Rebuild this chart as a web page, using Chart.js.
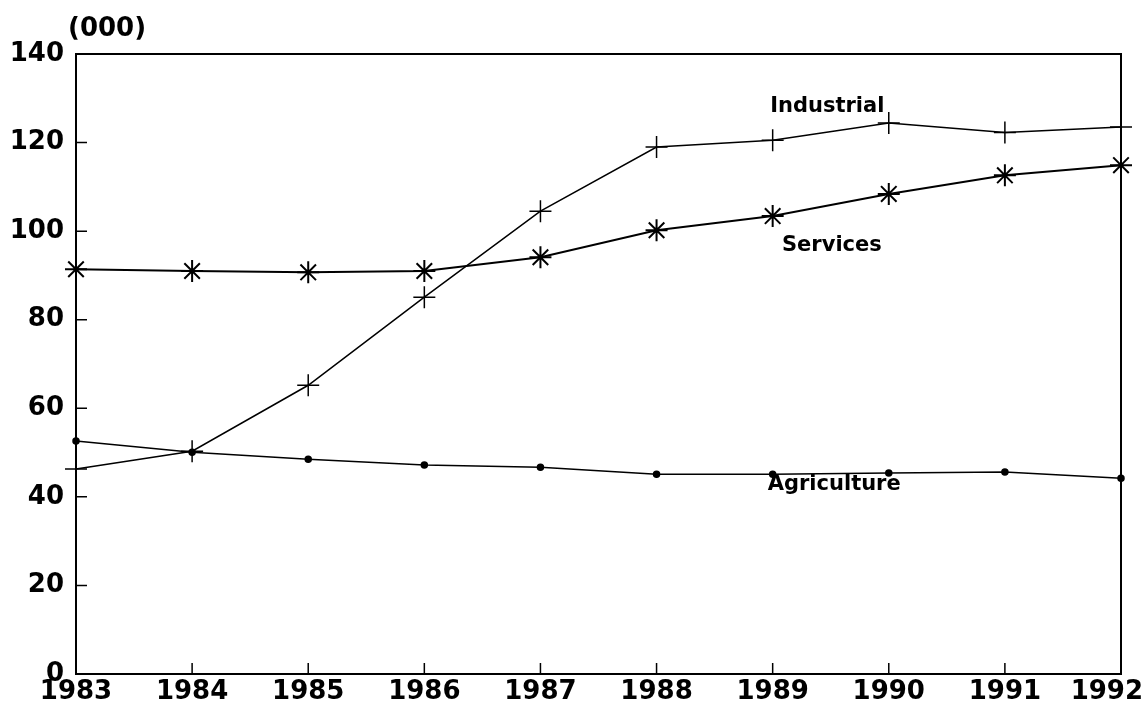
<!DOCTYPE html>
<html>
<head>
<meta charset="utf-8">
<script src="https://cdn.jsdelivr.net/npm/chart.js@4"></script>
<style>
  html, body { margin: 0; padding: 0; background: #fff; }
  #wrap { width: 1146px; height: 717px; }
</style>
</head>
<body>
<div id="wrap"><canvas id="c" width="1146" height="717"></canvas></div>
<script>
var years = ["1983", "1984", "1985", "1986", "1987", "1988", "1989", "1990", "1991", "1992"];
var industrial = [46.3, 50.3, 65.2, 85.1, 104.5, 119.0, 120.5, 124.4, 122.3, 123.5];
var services = [91.4, 91.0, 90.7, 91.0, 94.1, 100.2, 103.4, 108.4, 112.6, 114.9];
var agriculture = [52.6, 50.1, 48.5, 47.2, 46.7, 45.1, 45.1, 45.4, 45.6, 44.2];
var yTicks = [0, 20, 40, 60, 80, 100, 120, 140];

var FONT = "'DejaVu Sans', sans-serif";

// line labels sit next to the lines, in data units
var lineLabels = [
  { text: "Industrial", x: 6.47, y: 128.2 },
  { text: "Services", x: 6.51, y: 96.8 },
  { text: "Agriculture", x: 6.53, y: 42.7 }
];

var framePlugin = {
  id: "frame",
  afterDraw: function (chart) {
    var ctx = chart.ctx;
    var a = chart.chartArea;
    var xs = chart.scales.x, ys = chart.scales.y;
    ctx.save();
    ctx.strokeStyle = "#000";
    ctx.lineWidth = 2;
    ctx.strokeRect(a.left, a.top, a.right - a.left, a.bottom - a.top);

    // inward tick marks
    ctx.lineWidth = 1.5;
    ctx.beginPath();
    for (var i = 1; i < years.length - 1; i++) {
      var px = xs.getPixelForValue(i);
      ctx.moveTo(px, a.bottom);
      ctx.lineTo(px, a.bottom - 11);
    }
    yTicks.forEach(function (v) {
      if (v === 0 || v === 140) return;
      var py = ys.getPixelForValue(v);
      ctx.moveTo(a.left, py);
      ctx.lineTo(a.left + 11, py);
    });
    ctx.stroke();

    ctx.fillStyle = "#000";

    // year labels, the last one kept inside the page
    ctx.font = "bold 26px " + FONT;
    ctx.textAlign = "center";
    ctx.textBaseline = "top";
    years.forEach(function (y, i) {
      var px = xs.getPixelForValue(i);
      var half = ctx.measureText(y).width / 2;
      px = Math.min(px, chart.width - 3 - half);
      ctx.fillText(y, px, a.bottom + 5);
    });

    ctx.font = "bold 21px " + FONT;
    ctx.textBaseline = "middle";
    lineLabels.forEach(function (l) {
      ctx.fillText(l.text, xs.getPixelForValue(l.x), ys.getPixelForValue(l.y));
    });

    ctx.font = "bold 26px " + FONT;
    ctx.textAlign = "left";
    ctx.fillText("(000)", 68, 29);
    ctx.restore();
  }
};

var chart = new Chart(document.getElementById("c").getContext("2d"), {
  type: "line",
  data: {
    labels: years,
    datasets: [
      {
        label: "Industrial",
        data: industrial,
        borderColor: "#000",
        borderWidth: 1.5,
        pointStyle: "cross",
        pointRadius: 11,
        pointBorderWidth: 1.5,
        pointBorderColor: "#000",
        fill: false
      },
      {
        label: "Services",
        data: services,
        borderColor: "#000",
        borderWidth: 2,
        pointStyle: "star",
        pointRadius: 11,
        pointBorderWidth: 2,
        pointBorderColor: "#000",
        fill: false
      },
      {
        label: "Agriculture",
        data: agriculture,
        borderColor: "#000",
        borderWidth: 1.5,
        pointStyle: "circle",
        pointRadius: 3,
        pointBackgroundColor: "#000",
        pointBorderColor: "#000",
        fill: false
      }
    ]
  },
  options: {
    responsive: false,
    animation: false,
    layout: { padding: { top: 54, right: 25, left: 0, bottom: 0 } },
    plugins: {
      legend: { display: false },
      tooltip: { enabled: false }
    },
    scales: {
      x: {
        type: "category",
        offset: false,
        grid: { display: false, drawTicks: false },
        border: { display: false },
        ticks: { display: false },
        afterFit: function (s) {
          s.height = 43;
          s.paddingLeft = 0;
          s.paddingRight = 0;
        }
      },
      y: {
        min: 0,
        max: 140,
        grid: { display: false, drawTicks: false },
        border: { display: false },
        afterBuildTicks: function (s) {
          s.ticks = yTicks.map(function (v) { return { value: v }; });
        },
        ticks: {
          color: "#000",
          font: { family: FONT, size: 26, weight: "bold" },
          padding: 12
        },
        afterFit: function (s) {
          s.width = 76;
          s.paddingTop = 0;
          s.paddingBottom = 0;
        }
      }
    }
  },
  plugins: [framePlugin]
});
</script>
</body>
</html>
